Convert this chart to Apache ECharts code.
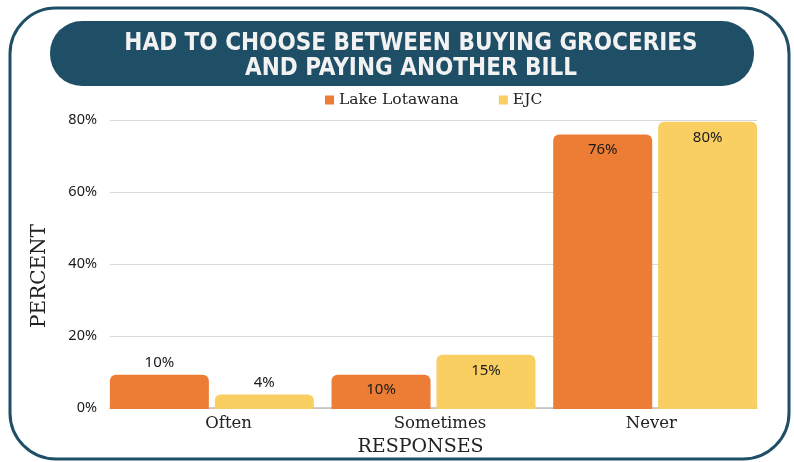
<!DOCTYPE html>
<html>
<head>
<meta charset="utf-8">
<script src="https://cdn.jsdelivr.net/npm/echarts@6/dist/echarts.min.js"></script>
<style>
html,body{margin:0;padding:0;background:#fff;}
#chart{width:794px;height:462px;}
</style>
</head>
<body>
<div id="chart"></div>
<script>
const categories = ['Often', 'Sometimes', 'Never'];
const seriesNames = ['Lake Lotawana', 'EJC'];
const lakeLotawana = [9.5, 9.5, 76];
const ejc = [4, 15, 79.5];
const labelPositions = ['top', 'insideTop', 'insideTop'];
const yTicks = [0, 20, 40, 60, 80];
const titleText = 'HAD TO CHOOSE BETWEEN BUYING GROCERIES\nAND PAYING ANOTHER BILL';

const DARK = '#1e4f66';
const ORANGE = '#ed7d35';
const YELLOW = '#f9cf62';
const SERIF = '"DejaVu Serif", "Liberation Serif", serif';
const SANS = '"Noto Sans", Lato, sans-serif';

function makeData(values) {
  return values.map((v, i) => ({
    value: v,
    label: { position: labelPositions[i], distance: labelPositions[i] === 'top' ? 4 : 8 }
  }));
}

const chart = echarts.init(document.getElementById('chart'));
const yMin = yTicks[0], yMax = yTicks[yTicks.length - 1], yInt = yTicks[1] - yTicks[0];

chart.setOption({
  animation: false,
  backgroundColor: '#fff',
  graphic: [
    { type: 'rect', z: 0, shape: { x: 10, y: 8, width: 779, height: 451, r: 46 },
      style: { fill: '#fff', stroke: DARK, lineWidth: 3 } },
    { type: 'rect', z: 1, shape: { x: 50, y: 21, width: 704, height: 65, r: 32 },
      style: { fill: DARK } }
  ],
  title: {
    text: titleText,
    left: 406, top: 26, textAlign: 'center',
    textStyle: {
      color: '#f2f2f2', fontSize: 24, fontWeight: 'bold', lineHeight: 25,
      fontFamily: '"Liberation Sans Narrow", "DejaVu Sans Condensed", Roboto, sans-serif'
    },
    z: 5
  },
  legend: {
    data: seriesNames,
    top: 87, left: 320,
    itemWidth: 9, itemHeight: 9, itemGap: 40,
    icon: 'rect',
    textStyle: { fontFamily: SERIF, fontSize: 15.5, color: '#222' }
  },
  grid: [
    { left: 110, right: 37, top: 120, bottom: 53 },
    { left: 123, right: 37, top: 120, bottom: 53 },
    { left: 101, right: 28, top: 120, bottom: 53 }
  ],
  xAxis: [
    { type: 'category', gridIndex: 0, data: categories,
      axisLine: { lineStyle: { color: '#bfbfbf', width: 1.5 } },
      axisTick: { show: false }, axisLabel: { show: false },
      name: 'RESPONSES', nameLocation: 'middle', nameGap: 30,
      nameTextStyle: { fontFamily: SERIF, fontSize: 19, color: '#222', padding: [0, 26, 0, 0] } },
    { type: 'category', gridIndex: 1, data: categories,
      axisLine: { show: false }, axisTick: { show: false },
      axisLabel: { fontFamily: SERIF, fontSize: 16.5, color: '#222', margin: 6 } },
    { type: 'category', gridIndex: 2, data: categories, show: false }
  ],
  yAxis: [
    { type: 'value', gridIndex: 0, min: yMin, max: yMax, interval: yInt,
      axisLabel: { formatter: '{value}%', fontFamily: SANS, fontSize: 14.5, color: '#1a1a1a', margin: 13 },
      splitLine: { lineStyle: { color: '#d9d9d9', width: 1.2 } },
      axisLine: { show: false }, axisTick: { show: false },
      name: 'PERCENT', nameLocation: 'middle', nameGap: 60, nameRotate: 90,
      nameTextStyle: { fontFamily: SERIF, fontSize: 20, color: '#222', padding: [0, 24, 0, 0] } },
    { type: 'value', gridIndex: 1, min: yMin, max: yMax, interval: yInt, show: false },
    { type: 'value', gridIndex: 2, min: yMin, max: yMax, interval: yInt, show: false }
  ],
  series: [
    { name: seriesNames[0], type: 'bar', xAxisIndex: 2, yAxisIndex: 2,
      data: makeData(lakeLotawana), barWidth: 99, barGap: '6%',
      itemStyle: { color: ORANGE, borderRadius: [6, 6, 0, 0] },
      label: { show: true, formatter: p => Math.round(p.value) + '%', fontFamily: SANS, fontSize: 15, color: '#1a1a1a' } },
    { name: seriesNames[1], type: 'bar', xAxisIndex: 2, yAxisIndex: 2,
      data: makeData(ejc), barWidth: 99, barGap: '6%',
      itemStyle: { color: YELLOW, borderRadius: [6, 6, 0, 0] },
      label: { show: true, formatter: p => Math.round(p.value) + '%', fontFamily: SANS, fontSize: 15, color: '#1a1a1a' } }
  ]
});
</script>
</body>
</html>
